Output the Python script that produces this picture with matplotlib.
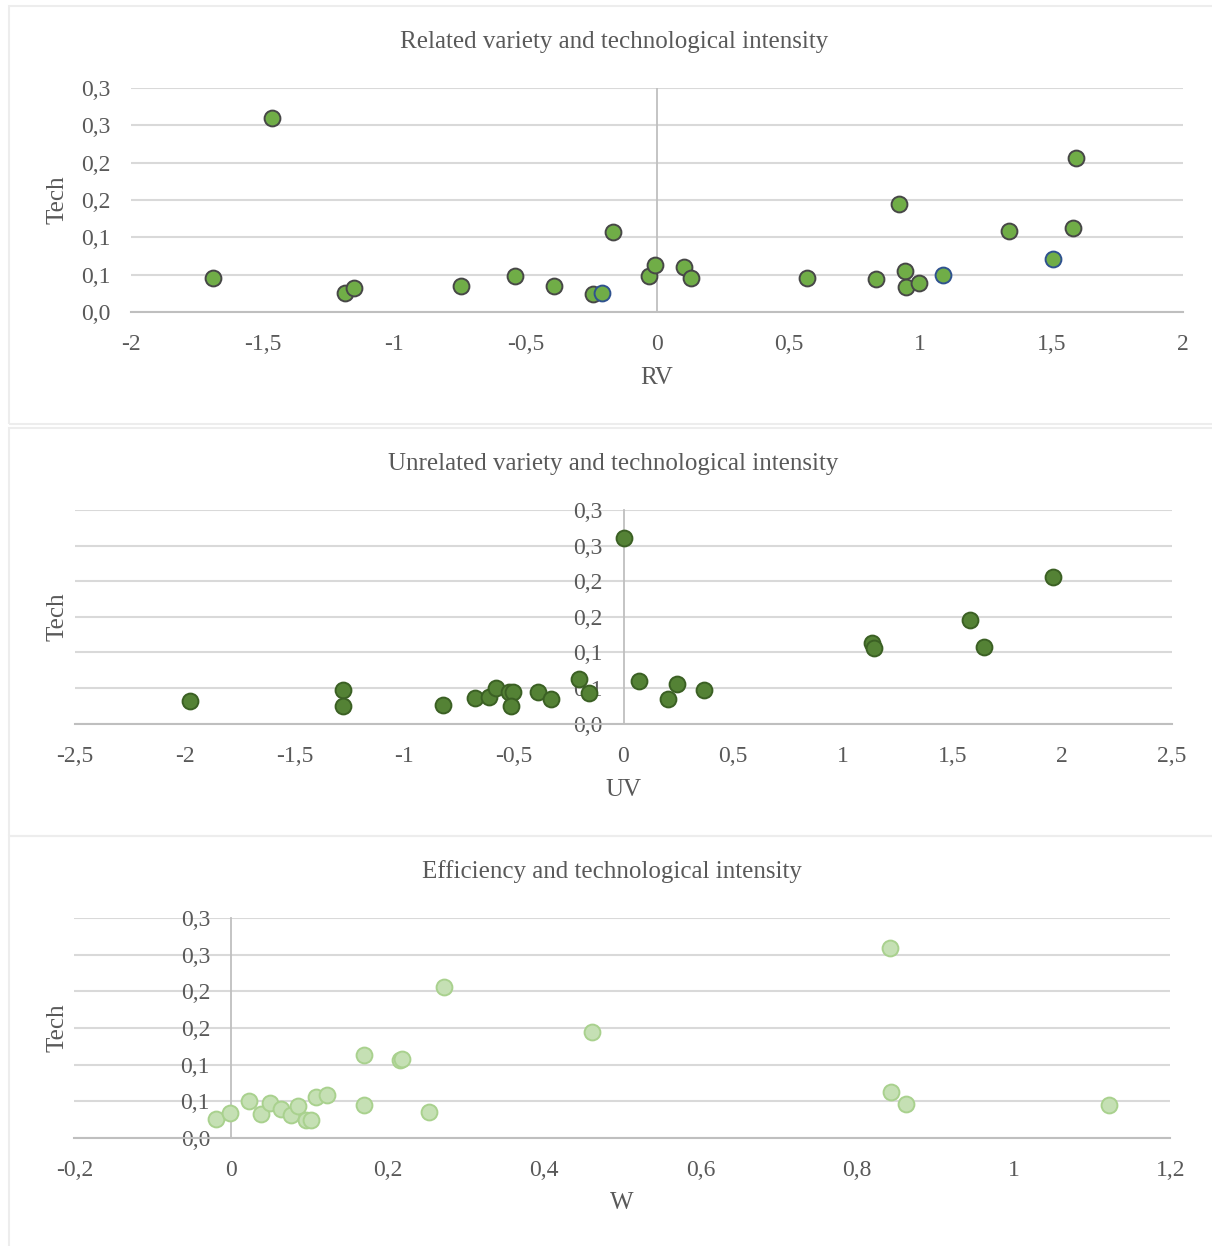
import matplotlib
matplotlib.use("Agg")
import matplotlib.pyplot as plt
from matplotlib.patches import Rectangle
from matplotlib.ticker import FuncFormatter

plt.rcParams['font.family'] = ['Liberation Serif', 'DejaVu Serif']

# ------------------------------ data ------------------------------#
# related variety (RV) vs Tech, two marker groups
rv_main = [-1.464, -1.690, -1.188, -1.153, -0.744, -0.540, -0.392, -0.243, -0.169,
           -0.030, -0.008, 0.103, 0.130, 0.571, 0.833, 0.922, 0.944, 0.947, 0.997,
           1.337, 1.580, 1.592]
rv_main_tech = [0.260, 0.045, 0.025, 0.032, 0.035, 0.048, 0.035, 0.0245, 0.107,
                0.048, 0.063, 0.060, 0.045, 0.045, 0.044, 0.145, 0.055, 0.034, 0.039,
                0.108, 0.1125, 0.206]
rv_other = [-0.209, 1.086, 1.506]
rv_other_tech = [0.026, 0.050, 0.071]

# unrelated variety (UV) vs Tech
uv = [-1.978, -1.278, -1.278, -0.823, -0.679, -0.614, -0.580, -0.522, -0.504, -0.515,
      -0.391, -0.329, -0.203, -0.158, 0.000, 0.071, 0.203, 0.246, 0.369, 1.134, 1.143,
      1.579, 1.644, 1.959]
uv_tech = [0.032, 0.048, 0.025, 0.026, 0.0356, 0.038, 0.0505, 0.045, 0.045, 0.025,
           0.045, 0.034, 0.0627, 0.0435, 0.260, 0.060, 0.0346, 0.0557, 0.047, 0.1136,
           0.106, 0.145, 0.1075, 0.2057]

# efficiency (W) vs Tech
w = [-0.019, -0.0015, 0.023, 0.038, 0.0495, 0.064, 0.077, 0.086, 0.096, 0.102, 0.109,
     0.1226, 0.170, 0.170, 0.2155, 0.219, 0.253, 0.272, 0.461, 0.842, 0.843, 0.863, 1.1216]
w_tech = [0.0256, 0.034, 0.050, 0.033, 0.0474, 0.039, 0.0315, 0.0438, 0.0246, 0.0246,
          0.055, 0.059, 0.1127, 0.045, 0.1067, 0.1076, 0.0347, 0.206, 0.145, 0.260,
          0.0625, 0.0465, 0.045]

y_ticks = [0, 0.05, 0.1, 0.15, 0.2, 0.25, 0.3]
y_tick_labels = ["0,0", "0,1", "0,1", "0,2", "0,2", "0,3", "0,3"]
rv_ticks = [-2, -1.5, -1, -0.5, 0, 0.5, 1, 1.5, 2]
uv_ticks = [-2.5, -2, -1.5, -1, -0.5, 0, 0.5, 1, 1.5, 2, 2.5]
w_ticks = [-0.2, 0, 0.2, 0.4, 0.6, 0.8, 1, 1.2]

# ------------------------------ layout ------------------------------#
W, H = 1212, 1246
fig = plt.figure(figsize=(W / 100, H / 100), dpi=100)
txt = '#595959'
grid = '#D9D9D9'
axis_c = '#BFBFBF'
fs_tick = 17
fs_text = 18


def px_axes(x0, y0, x1, y1):
    return fig.add_axes([x0 / W, 1 - y1 / H, (x1 - x0) / W, (y1 - y0) / H])


def box(y0, y1):
    fig.patches.append(Rectangle((9 / W, 1 - y1 / H), 1.0, (y1 - y0) / H,
                                 transform=fig.transFigure, fill=False,
                                 edgecolor='#EDEDED', lw=1.5))


def style(ax, xlim, xticks, spine_at_zero):
    ax.set_xlim(xlim)
    ax.set_ylim(0, 0.3)
    ax.set_yticks(y_ticks)
    ax.set_yticklabels(y_tick_labels)
    ax.set_xticks(xticks)
    ax.xaxis.set_major_formatter(FuncFormatter(lambda v, p: ('%g' % v).replace('.', ',')))
    ax.grid(axis='y', color=grid, lw=1.5)
    ax.set_axisbelow(True)
    for s in ['top', 'right']:
        ax.spines[s].set_visible(False)
    ax.spines['bottom'].set_color(axis_c)
    ax.spines['bottom'].set_linewidth(1.5)
    if spine_at_zero:
        ax.spines['left'].set_position(('data', 0))
        ax.spines['left'].set_color(axis_c)
        ax.spines['left'].set_linewidth(1.3)
    else:
        ax.spines['left'].set_visible(False)
        ax.axvline(0, color=axis_c, lw=1.3, zorder=1)
    ax.tick_params(length=0, labelsize=fs_tick, colors=txt)
    ax.tick_params(axis='x', pad=16)
    ax.tick_params(axis='y', pad=15)
    ax.patch.set_alpha(0)


box(6, 424)
box(428, 836)
box(836, 1260)

# panel 1
ax1 = px_axes(131, 88, 1183, 312)
style(ax1, (-2, 2), rv_ticks, False)
ax1.scatter(rv_main, rv_main_tech, s=130, c='#70AD47', edgecolors='#474747', linewidths=1.4, zorder=3)
ax1.scatter(rv_other, rv_other_tech, s=130, c='#70AD47', edgecolors='#2F528F', linewidths=1.4, zorder=3)

# panel 2
ax2 = px_axes(75, 510, 1172, 723.7)
style(ax2, (-2.5, 2.5), uv_ticks, True)
ax2.scatter(uv, uv_tech, s=130, c='#548235', edgecolors='#3B6024', linewidths=1.4, zorder=3)

# panel 3
ax3 = px_axes(74.3, 918.3, 1170.3, 1137.7)
style(ax3, (-0.2, 1.2), w_ticks, True)
ax3.scatter(w, w_tech, s=130, c='#C5E0B4', edgecolors='#A9D18E', linewidths=1.4, zorder=3)

# titles and axis labels
for (tx, ty, t) in [(614, 42, 'Related variety and technological intensity'),
                    (613, 464, 'Unrelated variety and technological intensity'),
                    (612, 872, 'Efficiency and technological intensity')]:
    fig.text(tx / W, 1 - ty / H, t, ha='center', va='center', fontsize=fs_text, color=txt)

for (tx, ty, t) in [(657, 378, 'RV'), (623, 790, 'UV'), (622, 1203, 'W')]:
    fig.text(tx / W, 1 - ty / H, t, ha='center', va='center', fontsize=fs_text, color=txt)

for ty in [200, 617, 1028]:
    fig.text(57 / W, 1 - ty / H, 'Tech', ha='center', va='center', rotation=90,
             fontsize=fs_text, color=txt)

fig.savefig('out.png', dpi=100)
